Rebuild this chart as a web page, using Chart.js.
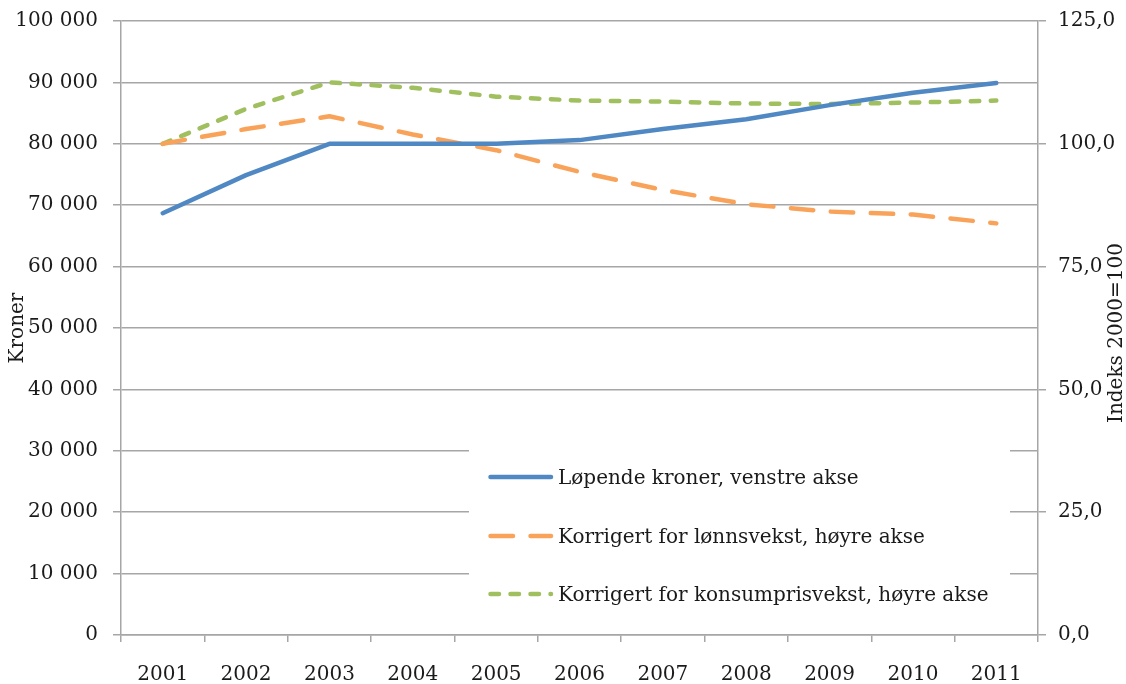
<!DOCTYPE html>
<html>
<head>
<meta charset="utf-8">
<script src="https://cdn.jsdelivr.net/npm/chart.js@4.4.1/dist/chart.umd.min.js"></script>
<style>
html,body{margin:0;padding:0;background:#fff;}
#c{display:block;}
</style>
</head>
<body>
<canvas id="c" width="1126" height="684"></canvas>
<script>
const years = ['2001','2002','2003','2004','2005','2006','2007','2008','2009','2010','2011'];
const lopendeKroner = [68700, 74900, 80000, 80000, 80000, 80600, 82400, 84000, 86300, 88300, 89900];
const lonnsvekst = [100.0, 103.0, 105.6, 101.9, 98.7, 94.3, 90.6, 87.7, 86.2, 85.6, 83.8];
const konsumprisvekst = [100.0, 107.1, 112.5, 111.4, 109.6, 108.8, 108.6, 108.2, 108.1, 108.4, 108.8];
const seriesLabels = ['Løpende kroner, venstre akse', 'Korrigert for lønnsvekst, høyre akse', 'Korrigert for konsumprisvekst, høyre akse'];
const leftTitle = 'Kroner';
const rightTitle = 'Indeks 2000=100';

const FONT = '"DejaVu Serif", serif';
const GRID = '#A6A6A6';
const TXT = '#1a1a1a';

const titlesPlugin = {
  id: 'axisTitles',
  afterDraw(chart) {
    const ctx = chart.ctx, a = chart.chartArea;
    const cy = (a.top + a.bottom) / 2;
    ctx.save();
    ctx.fillStyle = TXT;
    ctx.font = '20px ' + FONT;
    ctx.textAlign = 'center';
    ctx.textBaseline = 'middle';
    ctx.translate(18, cy);
    ctx.rotate(-Math.PI / 2);
    ctx.fillText(leftTitle, 0, 0);
    ctx.restore();
    ctx.save();
    ctx.fillStyle = TXT;
    ctx.font = '20px ' + FONT;
    ctx.textAlign = 'center';
    ctx.textBaseline = 'middle';
    ctx.translate(1117, cy + 5);
    ctx.rotate(-Math.PI / 2);
    ctx.fillText(rightTitle, 0, 0);
    ctx.restore();
  }
};

const legendPlugin = {
  id: 'boxLegend',
  afterDraw(chart) {
    const ctx = chart.ctx;
    ctx.save();
    ctx.fillStyle = '#ffffff';
    ctx.fillRect(469, 436, 541, 193);
    const rows = [477, 536, 594];
    chart.data.datasets.forEach((ds, i) => {
      const y = rows[i];
      ctx.save();
      ctx.strokeStyle = ds.borderColor;
      ctx.lineWidth = ds.borderWidth;
      ctx.lineCap = 'round';
      ctx.setLineDash(ds.borderDash || []);
      ctx.beginPath();
      ctx.moveTo(490.5, y);
      ctx.lineTo(551, y);
      ctx.stroke();
      ctx.restore();
      ctx.fillStyle = TXT;
      ctx.font = '20px ' + FONT;
      ctx.textAlign = 'left';
      ctx.textBaseline = 'middle';
      ctx.fillText(ds.label, 558, y + 2);
    });
    ctx.restore();
  }
};

const fmtKr = v => String(v).replace(/\B(?=(\d{3})+(?!\d))/g, ' ');
const fmtIdx = v => v.toFixed(1).replace('.', ',');
const fixV = w => s => { s.width = w; s.paddingTop = 0; s.paddingBottom = 0; };

new Chart(document.getElementById('c'), {
  type: 'line',
  data: {
    labels: years,
    datasets: [
      {
        label: seriesLabels[0],
        data: lopendeKroner,
        yAxisID: 'y',
        borderColor: '#5088C4',
        borderWidth: 4.5,
        borderCapStyle: 'round',
        borderJoinStyle: 'round',
        pointRadius: 0,
        tension: 0
      },
      {
        label: seriesLabels[1],
        data: lonnsvekst,
        yAxisID: 'y1',
        borderColor: '#F9A35A',
        borderWidth: 4.5,
        borderDash: [22.5, 17.5],
        borderCapStyle: 'round',
        borderJoinStyle: 'round',
        pointRadius: 0,
        tension: 0
      },
      {
        label: seriesLabels[2],
        data: konsumprisvekst,
        yAxisID: 'y1',
        borderColor: '#A0BF5E',
        borderWidth: 4.5,
        borderDash: [8.5, 11.5],
        borderCapStyle: 'round',
        borderJoinStyle: 'round',
        pointRadius: 0,
        tension: 0
      }
    ]
  },
  options: {
    responsive: false,
    animation: false,
    devicePixelRatio: 1,
    layout: { padding: { top: 21, left: 0, right: 0, bottom: 0 } },
    plugins: { legend: { display: false }, tooltip: { enabled: false } },
    scales: {
      x: {
        offset: true,
        grid: { offset: true, drawOnChartArea: false, drawTicks: true, tickLength: 7, color: GRID, lineWidth: 1.5 },
        border: { display: true, color: GRID, width: 1.5 },
        ticks: { color: TXT, font: { family: FONT, size: 20 }, padding: 21, maxRotation: 0 },
        afterFit(s) { s.height = 49; s.paddingLeft = 0; s.paddingRight = 0; }
      },
      y: {
        position: 'left',
        min: 0, max: 100000,
        ticks: { stepSize: 10000, color: TXT, font: { family: FONT, size: 20 }, padding: 15, callback: v => fmtKr(v) },
        grid: { color: GRID, lineWidth: 1.5, tickLength: 8, drawTicks: true },
        border: { display: true, color: GRID, width: 1.5 },
        afterFit: fixV(121)
      },
      y1: {
        position: 'right',
        min: 0, max: 125,
        ticks: { stepSize: 25, color: TXT, font: { family: FONT, size: 20 }, padding: 12, callback: v => fmtIdx(v) },
        grid: { drawOnChartArea: false, color: GRID, lineWidth: 1.5, tickLength: 8, drawTicks: true },
        border: { display: true, color: GRID, width: 1.5 },
        afterFit: fixV(88)
      }
    }
  },
  plugins: [titlesPlugin, legendPlugin]
});
</script>
</body>
</html>
